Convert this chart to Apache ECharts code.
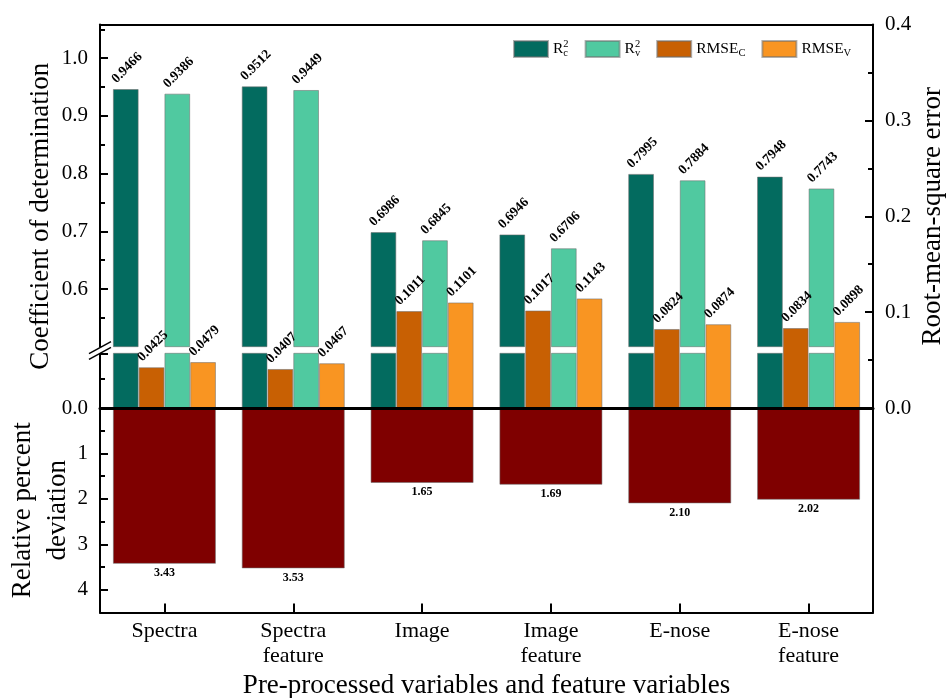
<!DOCTYPE html>
<html>
<head>
<meta charset="utf-8">
<script src="https://cdn.jsdelivr.net/npm/echarts@6/dist/echarts.min.js"></script>
<style>
  html, body { margin: 0; padding: 0; background: #fff; }
  #chart { width: 947px; height: 698px; }
</style>
</head>
<body>
<div id="chart"></div>
<script>
// ---- data ----
const categories = ['Spectra', 'Spectra\nfeature', 'Image', 'Image\nfeature', 'E-nose', 'E-nose\nfeature'];
const r2Calibration  = [0.9466, 0.9512, 0.6986, 0.6946, 0.7995, 0.7948];
const r2Validation   = [0.9386, 0.9449, 0.6845, 0.6706, 0.7884, 0.7743];
const rmseCalibration = [0.0425, 0.0407, 0.1011, 0.1017, 0.0824, 0.0834];
const rmseValidation  = [0.0479, 0.0467, 0.1101, 0.1143, 0.0874, 0.0898];
const rpdValues       = [3.43, 3.53, 1.65, 1.69, 2.10, 2.02];
const legendNames = ['R2c', 'R2v', 'RMSEc', 'RMSEv'];

// ---- layout ----
const FONT = "'Liberation Serif', 'Times New Roman', serif";
const BLACK = '#000';
const PLOT_LEFT = 100, PLOT_RIGHT = 873;
const PLOT_TOP = 24.5, BREAK_UPPER = 346.7, BREAK_LOWER = 353.3, ZERO_Y = 408, PLOT_BOTTOM = 612.5;
const R2_PX_PER_UNIT = 577;          // pixels per unit on the R² axis (both segments)
const R2_BREAK_START = 0.5;          // upper segment starts here
const r2UpperMax = R2_BREAK_START + (BREAK_UPPER - PLOT_TOP) / R2_PX_PER_UNIT;
const r2LowerMax = (ZERO_Y - BREAK_LOWER) / R2_PX_PER_UNIT;

const COLORS = { r2c: '#036B5F', r2v: '#50C9A0', rmsec: '#C86003', rmsev: '#F99522', rpd: '#7F0000' };

const chart = echarts.init(document.getElementById('chart'));

const gridBase = { left: PLOT_LEFT, right: 947 - PLOT_RIGHT, containLabel: false, outerBoundsMode: 'none' };
const hidden = { show: false };
const axisLine = { show: true, onZero: false, lineStyle: { color: BLACK, width: 2 } };
const axisTick = { show: true, inside: true, length: 8, lineStyle: { color: BLACK, width: 2 } };
const minorTick = { show: true, splitNumber: 2, length: 5, lineStyle: { color: BLACK, width: 2 } };
const tickLabel = { color: BLACK, fontFamily: FONT, fontSize: 21, margin: 12 };
const nameStyle = { color: BLACK, fontFamily: FONT, fontSize: 27 };

const barBorder = { borderColor: 'rgba(110,110,110,0.55)', borderWidth: 1 };
const valueLabel = {
  show: true, position: [6, -3], rotate: 45, align: 'left', verticalAlign: 'bottom',
  color: BLACK, fontFamily: FONT, fontWeight: 'bold', fontSize: 13.5,
  formatter: p => p.value.toFixed(4)
};

function bar(name, xi, yi, data, color, label) {
  return {
    type: 'bar', name, xAxisIndex: xi, yAxisIndex: yi, data,
    barGap: 0, barCategoryGap: '20%', clip: true,
    itemStyle: Object.assign({ color }, barBorder),
    label: label || { show: false },
    emphasis: { disabled: true }
  };
}
// empty series keeping the four side-by-side slots aligned across the stacked grids
function slot(xi, yi) {
  return { type: 'bar', name: 'slot', xAxisIndex: xi, yAxisIndex: yi, data: [], barGap: 0, barCategoryGap: '20%' };
}

const legendText = {
  R2c: '{b|R}{lo|c}{hi|2}',
  R2v: '{b|R}{lo|v}{hi|2}',
  RMSEc: '{b|RMSE}{sub|C}',
  RMSEv: '{b|RMSE}{sub|V}'
};

const option = {
  backgroundColor: '#fff',
  animation: false,
  grid: [
    Object.assign({ top: PLOT_TOP, height: BREAK_UPPER - PLOT_TOP }, gridBase),
    Object.assign({ top: BREAK_LOWER, height: ZERO_Y - BREAK_LOWER }, gridBase),
    Object.assign({ top: PLOT_TOP, height: ZERO_Y - PLOT_TOP }, gridBase),
    Object.assign({ top: ZERO_Y, height: PLOT_BOTTOM - ZERO_Y }, gridBase)
  ],
  legend: {
    left: 513, top: 39, padding: 0, itemWidth: 34, itemHeight: 16, itemGap: 16, icon: 'rect',
    data: legendNames,
    formatter: n => legendText[n],
    textStyle: {
      color: BLACK, fontFamily: FONT, fontSize: 15.5,
      rich: {
        b: { fontFamily: FONT, fontSize: 15.5, color: BLACK },
        lo: { fontFamily: FONT, fontSize: 10.5, color: BLACK, width: 0, padding: [9, 0, 0, 0] },
        hi: { fontFamily: FONT, fontSize: 10.5, color: BLACK, padding: [0, 0, 9, 0] },
        sub: { fontFamily: FONT, fontSize: 10.5, color: BLACK, padding: [9, 0, 0, 0] }
      }
    }
  },
  xAxis: [
    { gridIndex: 0, type: 'category', data: categories, position: 'top',
      axisLine: axisLine, axisTick: hidden, axisLabel: hidden },
    { gridIndex: 1, type: 'category', data: categories, position: 'bottom', z: 10,
      axisLine: { show: true, onZero: false, lineStyle: { color: BLACK, width: 3 } },
      axisTick: hidden, axisLabel: hidden },
    { gridIndex: 2, type: 'category', data: categories, show: false },
    { gridIndex: 3, type: 'category', data: categories, position: 'bottom',
      axisLine: axisLine,
      axisTick: { show: true, inside: true, alignWithLabel: true, length: 9, lineStyle: { color: BLACK, width: 2 } },
      axisLabel: { color: BLACK, fontFamily: FONT, fontSize: 22, lineHeight: 25, margin: 6, interval: 0 },
      name: 'Pre-processed variables and feature variables',
      nameLocation: 'middle', nameGap: 60, nameMoveOverlap: false, nameTextStyle: nameStyle }
  ],
  yAxis: [
    { gridIndex: 0, type: 'value', position: 'left', min: R2_BREAK_START, max: r2UpperMax, interval: 0.1,
      axisLine, axisTick, minorTick, splitLine: hidden,
      axisLabel: Object.assign({}, tickLabel, {
        showMinLabel: false,
        formatter: v => (v > R2_BREAK_START + 1e-6 && v <= 1 + 1e-6) ? v.toFixed(1) : ''
      }) },
    { gridIndex: 1, type: 'value', position: 'left', min: 0, max: r2LowerMax, interval: 0.1,
      axisLine, axisTick, minorTick, splitLine: hidden,
      axisLabel: Object.assign({}, tickLabel, { formatter: v => (v === 0 ? '0.0' : '') }) },
    { gridIndex: 2, type: 'value', position: 'left', min: 0, max: 1,
      axisLine: hidden, axisTick: hidden, axisLabel: hidden, splitLine: hidden,
      name: 'Coefficient of determination', nameLocation: 'middle', nameGap: 46,
      nameMoveOverlap: false, nameTextStyle: nameStyle },
    { gridIndex: 2, type: 'value', position: 'right', min: 0, max: 0.4, interval: 0.1,
      axisLine, axisTick, minorTick, splitLine: hidden,
      axisLabel: Object.assign({}, tickLabel, { formatter: v => v.toFixed(1) }),
      name: 'Root-mean-square error', nameLocation: 'middle', nameGap: 46,
      nameMoveOverlap: false, nameTextStyle: nameStyle },
    { gridIndex: 3, type: 'value', position: 'left', inverse: true, min: 0, max: 4.5, interval: 1,
      axisLine, axisTick, minorTick, splitLine: hidden,
      axisLabel: Object.assign({}, tickLabel, { formatter: v => (v > 0 && Number.isInteger(v)) ? String(v) : '' }),
      name: 'Relative percent\ndeviation', nameLocation: 'middle', nameGap: 25, nameMoveOverlap: false,
      nameTextStyle: Object.assign({}, nameStyle, { lineHeight: 35 }) },
    { gridIndex: 3, type: 'value', position: 'right', inverse: true, min: 0, max: 4.5,
      axisLine, axisTick: hidden, axisLabel: hidden, splitLine: hidden }
  ],
  series: [
    // R² above the break
    bar('R2c', 0, 0, r2Calibration, COLORS.r2c, valueLabel),
    slot(0, 0),
    bar('R2v', 0, 0, r2Validation, COLORS.r2v, valueLabel),
    slot(0, 0),
    // R² below the break
    bar('R2c', 1, 1, r2Calibration, COLORS.r2c),
    slot(1, 1),
    bar('R2v', 1, 1, r2Validation, COLORS.r2v),
    slot(1, 1),
    // RMSE on the right axis
    slot(2, 3),
    bar('RMSEc', 2, 3, rmseCalibration, COLORS.rmsec, valueLabel),
    slot(2, 3),
    bar('RMSEv', 2, 3, rmseValidation, COLORS.rmsev, valueLabel),
    // RPD, drawn downwards
    bar('RPD', 3, 4, rpdValues, COLORS.rpd, {
      show: true, position: 'bottom', distance: 3, color: BLACK,
      fontFamily: FONT, fontWeight: 'bold', fontSize: 12,
      formatter: p => p.value.toFixed(2)
    })
  ]
};

chart.setOption(option);

// axis-break marker on the left axis
const yTop = chart.convertToPixel({ yAxisIndex: 0 }, R2_BREAK_START) + 1;
const yBot = chart.convertToPixel({ yAxisIndex: 1 }, r2LowerMax);
const bx0 = PLOT_LEFT - 11, bx1 = PLOT_LEFT + 11, dy = 6;
chart.setOption({
  graphic: [
    { type: 'polygon', z: 100, silent: true,
      shape: { points: [[bx0, yTop + dy], [bx1, yTop - dy], [bx1, yBot - dy], [bx0, yBot + dy]] },
      style: { fill: '#fff' } },
    { type: 'line', z: 101, silent: true,
      shape: { x1: bx0, y1: yTop + dy, x2: bx1, y2: yTop - dy },
      style: { stroke: BLACK, lineWidth: 1.5 } },
    { type: 'line', z: 101, silent: true,
      shape: { x1: bx0, y1: yBot + dy, x2: bx1, y2: yBot - dy },
      style: { stroke: BLACK, lineWidth: 1.5 } }
  ]
});
</script>
</body>
</html>
